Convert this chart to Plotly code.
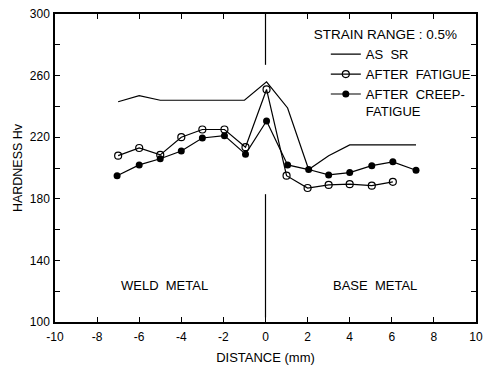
import plotly.graph_objects as go

# Data
x_sr = [-7, -6, -5, -4, -3, -2, -1, 0.05, 1.05, 2.05, 3.0, 4.0, 5.0, 6.0, 7.15]
y_sr = [243, 247, 244, 244, 244, 244, 244, 256, 239, 199, 208, 215, 215, 215, 215]

x_fat = [-7, -6, -5, -4, -3, -1.95, -0.95, 0.05, 1.0, 2.0, 3.0, 4.0, 5.05, 6.05]
y_fat = [208, 213, 208.5, 220, 225, 225, 213.5, 251, 195, 187, 189, 189.5, 188.5, 191]

x_cf = [-7.05, -6, -5, -4, -3, -1.95, -0.95, 0.05, 1.05, 2.05, 3.0, 4.0, 5.05, 6.05, 7.15]
y_cf = [195, 202, 206, 211, 219.5, 221, 209, 230.5, 202, 199, 195.5, 197, 201.5, 204, 198.5]

x_ticks = [-10, -8, -6, -4, -2, 0, 2, 4, 6, 8, 10]
y_ticks = [100, 140, 180, 220, 260, 300]

FONT = "Liberation Sans, Arial, sans-serif"

fig = go.Figure()
fig.add_trace(go.Scatter(x=x_sr, y=y_sr, mode="lines", name="AS  SR",
                         line=dict(color="black", width=1.2)))
fig.add_trace(go.Scatter(x=x_fat, y=y_fat, mode="lines+markers", name="AFTER  FATIGUE",
                         line=dict(color="black", width=1.2),
                         marker=dict(symbol="circle-open", size=7, color="black",
                                     line=dict(width=1.2))))
fig.add_trace(go.Scatter(x=x_cf, y=y_cf, mode="lines+markers", name="AFTER  CREEP-<br>FATIGUE",
                         line=dict(color="black", width=1.2),
                         marker=dict(symbol="circle", size=7, color="black")))

# boundary line at x = 0
fig.add_shape(type="line", x0=0, x1=0, y0=267, y1=300, xref="x", yref="y",
              line=dict(color="black", width=1.2))
fig.add_shape(type="line", x0=0, x1=0, y0=103, y1=183, xref="x", yref="y",
              line=dict(color="black", width=1.2))

fig.add_annotation(x=-4.8, y=124, text="WELD  METAL", showarrow=False,
                   font=dict(size=13, color="black", family=FONT))
fig.add_annotation(x=5.2, y=124, text="BASE  METAL", showarrow=False,
                   font=dict(size=13, color="black", family=FONT))

fig.update_layout(
    width=490, height=370,
    margin=dict(l=55, r=7, t=11, b=48),
    paper_bgcolor="white", plot_bgcolor="white",
    font=dict(family=FONT, size=12, color="black"),
    showlegend=True,
    legend=dict(x=0.61, y=0.975, xanchor="left", yanchor="top",
                bgcolor="rgba(0,0,0,0)",
                title=dict(text="STRAIN RANGE : 0.5%", side="top",
                           font=dict(size=13.5, family=FONT)),
                font=dict(size=13, family=FONT),
                indentation=14, valign="top", itemwidth=30,
                tracegroupgap=0),
)
fig.update_xaxes(range=[-10, 10], tickvals=x_ticks, ticktext=[str(v) for v in x_ticks],
                 ticks="inside", ticklen=5, tickwidth=1, tickcolor="black",
                 ticklabelstandoff=3,
                 showline=True, linecolor="black", linewidth=1.5, mirror="ticks",
                 showgrid=False, zeroline=False,
                 title=dict(text="DISTANCE (mm)", font=dict(size=13), standoff=10))
fig.update_yaxes(range=[100, 300], tickvals=y_ticks, ticktext=[str(v) for v in y_ticks],
                 ticks="inside", ticklen=5, tickwidth=1, tickcolor="black",
                 ticklabelstandoff=1,
                 minor=dict(dtick=20, tick0=100, ticks="inside", ticklen=5, tickcolor="black"),
                 showline=True, linecolor="black", linewidth=1.5, mirror="ticks",
                 showgrid=False, zeroline=False,
                 title=dict(text="HARDNESS Hv", font=dict(size=12.5), standoff=4))

fig.write_html("out.html")
